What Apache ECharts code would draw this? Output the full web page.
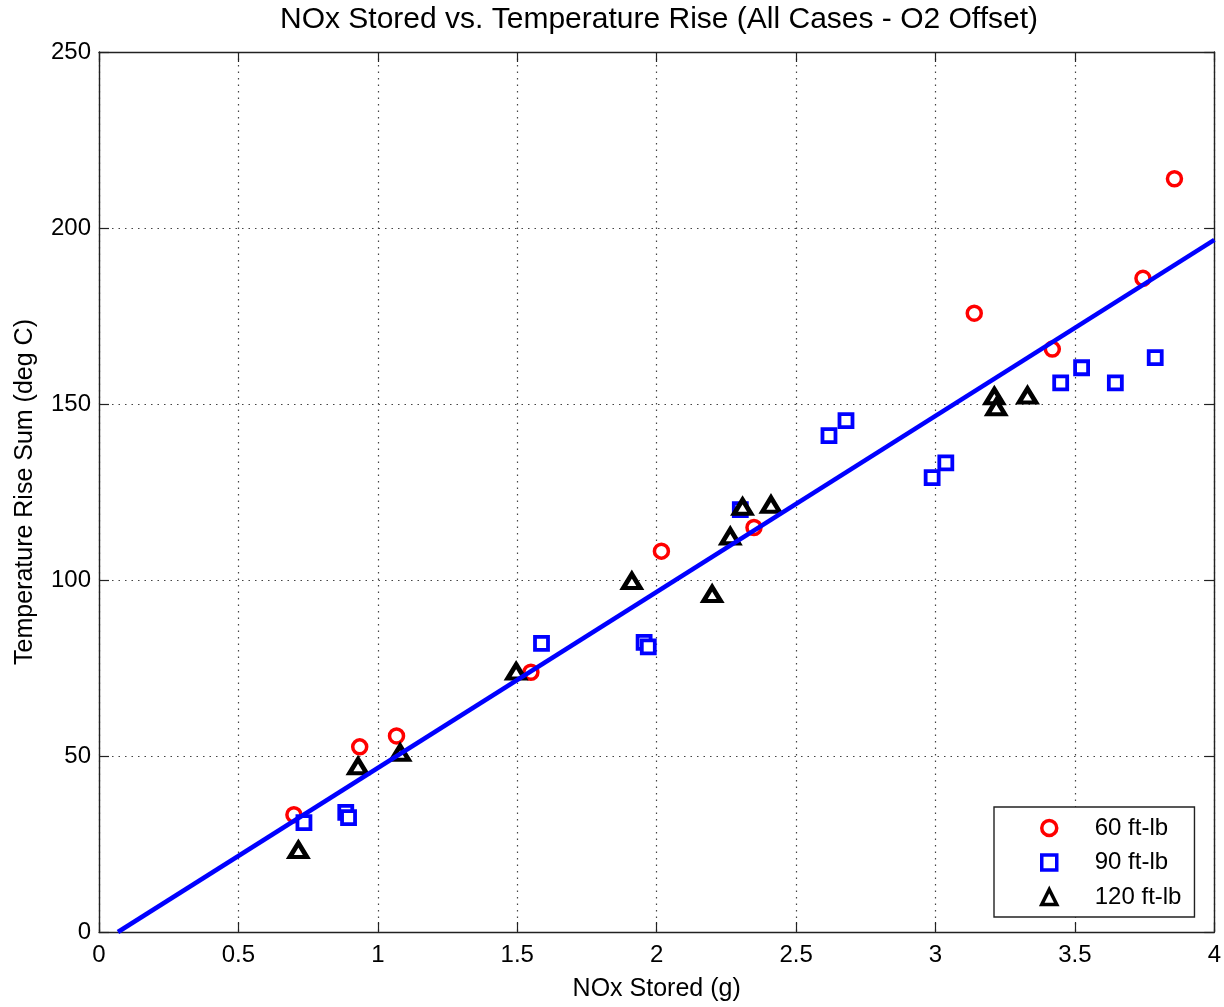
<!DOCTYPE html>
<html>
<head>
<meta charset="utf-8">
<script src="https://cdn.jsdelivr.net/npm/echarts@6/dist/echarts.min.js"></script>
<style>
  html, body { margin: 0; padding: 0; background: #fff; }
  #chart { width: 1224px; height: 1007px; }
</style>
</head>
<body>
<div id="chart"></div>
<script>
// NOx stored (g) vs. summed temperature rise (deg C), by torque case
const nox60 = [0.699, 0.935, 1.067, 1.549, 2.017, 2.349, 3.139, 3.419, 3.744, 3.857];
const rise60 = [33.3, 52.6, 55.7, 73.8, 108.2, 114.9, 175.8, 165.6, 185.7, 214.0];

const nox90 = [0.735, 0.885, 0.895, 1.587, 1.955, 1.970, 2.300, 2.618, 2.679, 2.988, 3.037, 3.449, 3.524, 3.645, 3.788];
const rise90 = [31.1, 34.0, 32.5, 82.0, 82.3, 81.0, 120.0, 141.0, 145.3, 129.1, 133.3, 156.0, 160.3, 156.0, 163.2];

const nox120 = [0.715, 0.929, 1.080, 1.496, 1.911, 2.199, 2.264, 2.308, 2.410, 3.211, 3.218, 3.330];
const rise120 = [23.3, 47.1, 50.9, 74.0, 99.7, 96.0, 112.4, 120.8, 121.4, 152.2, 149.1, 152.4];

// Linear fit endpoints (all cases)
const fitNox = [0.068, 4.0];
const fitRise = [0.0, 196.6];

const xTicks = [0, 0.5, 1, 1.5, 2, 2.5, 3, 3.5, 4];
const yTicks = [0, 50, 100, 150, 200, 250];
const caseNames = ['60 ft-lb', '90 ft-lb', '120 ft-lb'];
const chartTitle = 'NOx Stored vs. Temperature Rise (All Cases - O2 Offset)';

const pairs = (xs, ys) => xs.map((x, i) => [x, ys[i]]);
const FONT = '"Liberation Sans", Arial, Helvetica, sans-serif';
const INK = '#000';

const GRID = { left: 99, right: 5, top: 52, bottom: 72 };
const W = 1224;

const chart = echarts.init(document.getElementById('chart'), null, { renderer: 'canvas' });

const gridLine = { show: true, lineStyle: { color: '#444', type: [1.5, 5], width: 1.2 } };
const tickIn = { show: true, inside: true, length: 10, lineStyle: { color: '#222', width: 1.2 } };
const axisLn = { show: true, onZero: false, lineStyle: { color: '#222', width: 1.4 } };
const tickFmt = v => String(v);

chart.setOption({
  animation: false,
  backgroundColor: '#fff',
  textStyle: { fontFamily: FONT },
  // title centred over the plotting area
  graphic: [{
    type: 'text',
    x: GRID.left + (W - GRID.left - GRID.right) / 2,
    y: 20,
    style: {
      text: chartTitle, align: 'center', verticalAlign: 'middle',
      fontFamily: FONT, fontSize: 30, fill: INK
    }
  }],
  grid: Object.assign({ containLabel: false }, GRID),
  xAxis: [
    {
      type: 'value', min: xTicks[0], max: xTicks[xTicks.length - 1], interval: 0.5,
      name: 'NOx Stored (g)', nameLocation: 'middle', nameGap: 45,
      nameTextStyle: { fontFamily: FONT, fontSize: 25, color: INK },
      axisLine: axisLn, axisTick: tickIn, splitLine: gridLine,
      axisLabel: { fontFamily: FONT, fontSize: 24, color: INK, margin: 11, formatter: tickFmt }
    },
    {
      type: 'value', position: 'top', min: xTicks[0], max: xTicks[xTicks.length - 1], interval: 0.5,
      axisLine: axisLn, axisTick: tickIn, splitLine: { show: false }, axisLabel: { show: false }
    }
  ],
  yAxis: [
    {
      type: 'value', min: yTicks[0], max: yTicks[yTicks.length - 1], interval: 50,
      name: 'Temperature Rise Sum (deg C)', nameLocation: 'middle', nameGap: 61,
      nameTextStyle: { fontFamily: FONT, fontSize: 25, color: INK },
      axisLine: axisLn, axisTick: tickIn, splitLine: gridLine,
      axisLabel: { fontFamily: FONT, fontSize: 24, color: INK, margin: 8, formatter: tickFmt }
    },
    {
      type: 'value', position: 'right', min: yTicks[0], max: yTicks[yTicks.length - 1], interval: 50,
      axisLine: axisLn, axisTick: tickIn, splitLine: { show: false }, axisLabel: { show: false }
    }
  ],
  legend: {
    orient: 'vertical',
    left: 994, top: 807,
    padding: [9, 13, 8, 46],
    itemGap: 10.5,
    itemWidth: 15, itemHeight: 15,
    borderColor: '#222', borderWidth: 1.4, borderRadius: 0,
    backgroundColor: '#fff',
    textStyle: { fontFamily: FONT, fontSize: 24, color: INK, lineHeight: 24, padding: [0, 0, 0, 33] },
    data: caseNames.map(n => ({ name: n, itemStyle: { borderWidth: 3.5 } }))
  },
  series: [
    {
      name: caseNames[0], type: 'scatter', data: pairs(nox60, rise60), z: 4,
      symbol: 'circle', symbolSize: 14,
      itemStyle: { color: '#fff', borderColor: '#ff0000', borderWidth: 3.5, opacity: 1 }
    },
    {
      name: caseNames[1], type: 'scatter', data: pairs(nox90, rise90), z: 4,
      symbol: 'rect', symbolSize: 13,
      itemStyle: { color: '#fff', borderColor: '#0000ff', borderWidth: 3.8, opacity: 1 }
    },
    {
      name: caseNames[2], type: 'scatter', data: pairs(nox120, rise120), z: 5,
      symbol: 'triangle', symbolSize: [17, 14],
      itemStyle: { color: '#fff', borderColor: '#000', borderWidth: 4.5, opacity: 1 }
    },
    {
      name: 'fit', type: 'line', data: pairs(fitNox, fitRise),
      showSymbol: false, symbol: 'none', silent: true, z: 6,
      lineStyle: { color: '#0000ff', width: 4.5 }
    }
  ]
});
</script>
</body>
</html>
